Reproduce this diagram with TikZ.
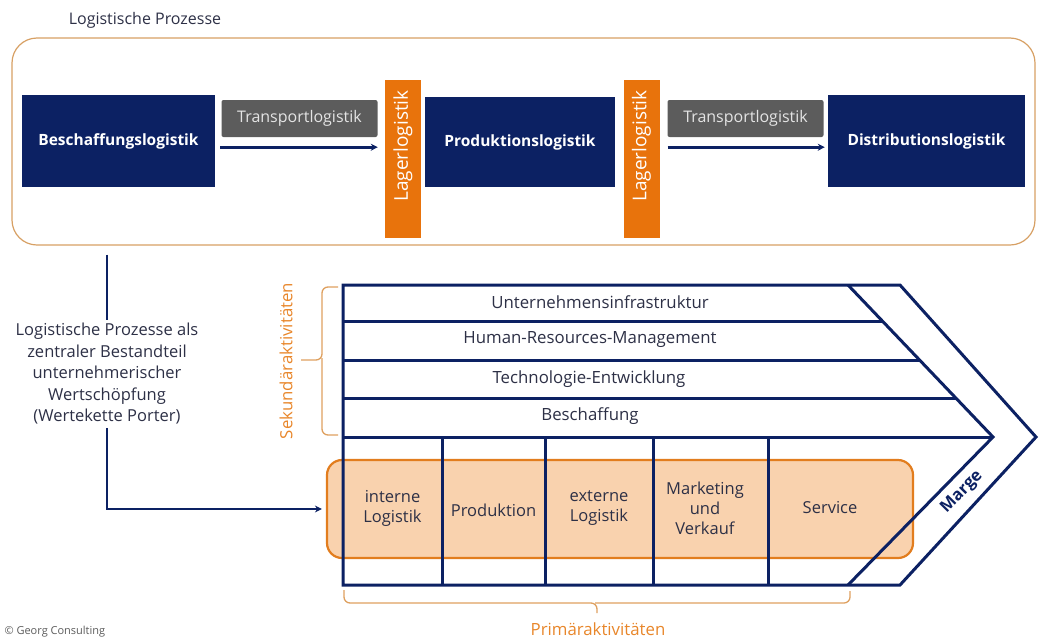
\documentclass[tikz,border=0pt]{standalone}
\usepackage{fontspec}
\setmainfont{Open Sans}
\usetikzlibrary{arrows.meta,calc}
\definecolor{navy}{RGB}{12,33,99}
\definecolor{barorange}{RGB}{232,115,12}
\definecolor{bandfill}{RGB}{249,210,174}
\definecolor{bandline}{RGB}{226,125,30}
\definecolor{frameline}{RGB}{215,160,100}
\definecolor{labelgray}{RGB}{92,92,92}
\definecolor{labeltext}{RGB}{228,228,228}
\definecolor{bodytext}{RGB}{45,48,70}
\definecolor{bracecol}{RGB}{222,160,95}
\definecolor{bracetext}{RGB}{232,134,42}
\begin{document}
\begin{tikzpicture}[x=1pt,y=-1pt,
  procbox/.style={draw=frameline,line width=1.2pt,rounded corners=25pt,inner sep=0pt},
  bluebox/.style={fill=navy,text=white,font=\bfseries\fontsize{15.5}{17}\selectfont,inner sep=0pt},
  lagerbar/.style={fill=barorange,inner sep=0pt,minimum width=36pt},
  lagertext/.style={text=white,rotate=90,font=\fontsize{19}{20}\selectfont,inner sep=0pt},
  graylabel/.style={fill=labelgray,text=labeltext,rounded corners=2pt,font=\fontsize{16}{18}\selectfont,inner sep=0pt,minimum width=156pt,minimum height=37pt},
  arr/.style={navy,line width=2.6pt,-{Stealth[length=7pt,width=7pt]}},
  navyline/.style={navy,line width=2.6pt},
  chainline/.style={navy,line width=3pt},
  rowtext/.style={text=bodytext,font=\fontsize{16.8}{18}\selectfont},
  coltext/.style={text=bodytext,font=\fontsize{16.5}{20}\selectfont,align=center},
  band/.style={fill=bandfill,draw=bandline,line width=2.2pt,rounded corners=15pt,inner sep=0pt},
  bracestyle/.style={draw=bracecol,line width=1.3pt,rounded corners=6pt},
  bracelabel/.style={text=bracetext,font=\fontsize{16.8}{18}\selectfont}]
\useasboundingbox (0,0) rectangle (1040,640);

% --- logistic process chain ---
\node[text=bodytext,font=\fontsize{16}{18}\selectfont] (ptitle) at (145,20) {Logistische Prozesse};
\node[procbox,minimum width=1023pt,minimum height=207pt] (proc) at (523.5,141.5) {};

\node[bluebox,minimum width=193pt,minimum height=92pt] (besch) at (118.5,141) {Beschaffungslogistik};
\node[bluebox,minimum width=190pt,minimum height=90pt] (prod) at (520,142) {Produktionslogistik};
\node[bluebox,minimum width=197pt,minimum height=92pt] (dist) at (926.5,141) {Distributionslogistik};

% storage bars with their upright labels
\node[lagerbar,minimum height=158pt] (lag1) at (403,159) {};
\node[lagerbar,minimum height=158pt] (lag2) at (641.5,159) {};
\node[lagertext] (lag1txt) at (403,146) {Lagerlogistik};
\node[lagertext] (lag2txt) at (641.5,146) {Lagerlogistik};

\node[graylabel] (t1) at (299.5,118.5) {Transportlogistik};
\node[graylabel] (t2) at (745.5,118.5) {Transportlogistik};

\draw[arr] ($(besch.east |- t1.south)+(5,10)$) -- ($(lag1.west |- t1.south)+(-7,10)$);
\draw[arr] ($(lag2.east |- t2.south)+(8,10)$) -- ($(dist.west |- t2.south)+(-3,10)$);

% --- value chain (Porter) ---
\fill[white] (343,285) -- (900,285) -- (1036,437) -- (900,585) -- (343,585) -- cycle;

\node[band,minimum width=586pt,minimum height=98pt] (band) at (620,509) {};

% rows of support activities
\draw[chainline] (343,321) -- (882.3,321);
\draw[chainline] (343,360) -- (919.5,360);
\draw[chainline] (343,398) -- (955.8,398);
\draw[chainline] (343,437) -- (993,437);
% margin wedge
\draw[chainline] (848,285) -- (993,437) -- (848,585);
% columns of primary activities
\foreach \cx in {442,545,653,768}{
  \draw[chainline] (\cx,437) -- (\cx,585);
}
% outline
\draw[chainline,line join=miter] (343,285) -- (900,285) -- (1036,437) -- (900,585) -- (343,585) -- cycle;

\node[rowtext] (r1) at (600,302) {Unternehmensinfrastruktur};
\node[rowtext] (r2) at (590,339.5) {Human-Resources-Management};
\node[rowtext] (r3) at (589,379) {Technologie-Entwicklung};
\node[rowtext] (r4) at (590,416.5) {Beschaffung};

\node[coltext] (c1) at (392.5,508) {interne\\Logistik};
\node[coltext] (c2) at (493.5,510) {Produktion};
\node[coltext] (c3) at (599,508) {externe\\Logistik};
\node[coltext] (c4) at (705,508) {Marketing\\und\\Verkauf};
\node[coltext] (c5) at (830,508) {Service};

\node[text=navy,font=\bfseries\fontsize{16.5}{18}\selectfont,rotate=45.6,inner sep=1pt] (marge) at (962,492) {Marge};

% braces
\draw[bracestyle] (338,287) -| (322,360) -- (301,360);
\draw[bracestyle] (322,358) |- (338,435);
\node[bracelabel,rotate=90] (sek) at (286,361) {Sekundäraktivitäten};

\draw[bracestyle] (344,590) |- (597,603) -- (597,613);
\draw[bracestyle] (595,603) -| (850,591);
\node[bracelabel] (prim) at (598,629) {Primäraktivitäten};

% --- explanatory note ---
\node[text=bodytext,font=\fontsize{16.5}{21.5}\selectfont,align=center,inner sep=3pt] (note) at (107,374)
  {Logistische Prozesse als\\zentraler Bestandteil\\unternehmerischer\\Wertschöpfung\\(Wertekette Porter)};
\draw[navyline] ([yshift=-9pt]proc.south -| note.north) -- (note.north);
\draw[arr,shorten >=4pt] (note.south) |- (band.west);

\node[text=labelgray,font=\fontsize{11}{12}\selectfont,anchor=west] (copy) at (1,632) {© Georg Consulting};
\end{tikzpicture}
\end{document}
